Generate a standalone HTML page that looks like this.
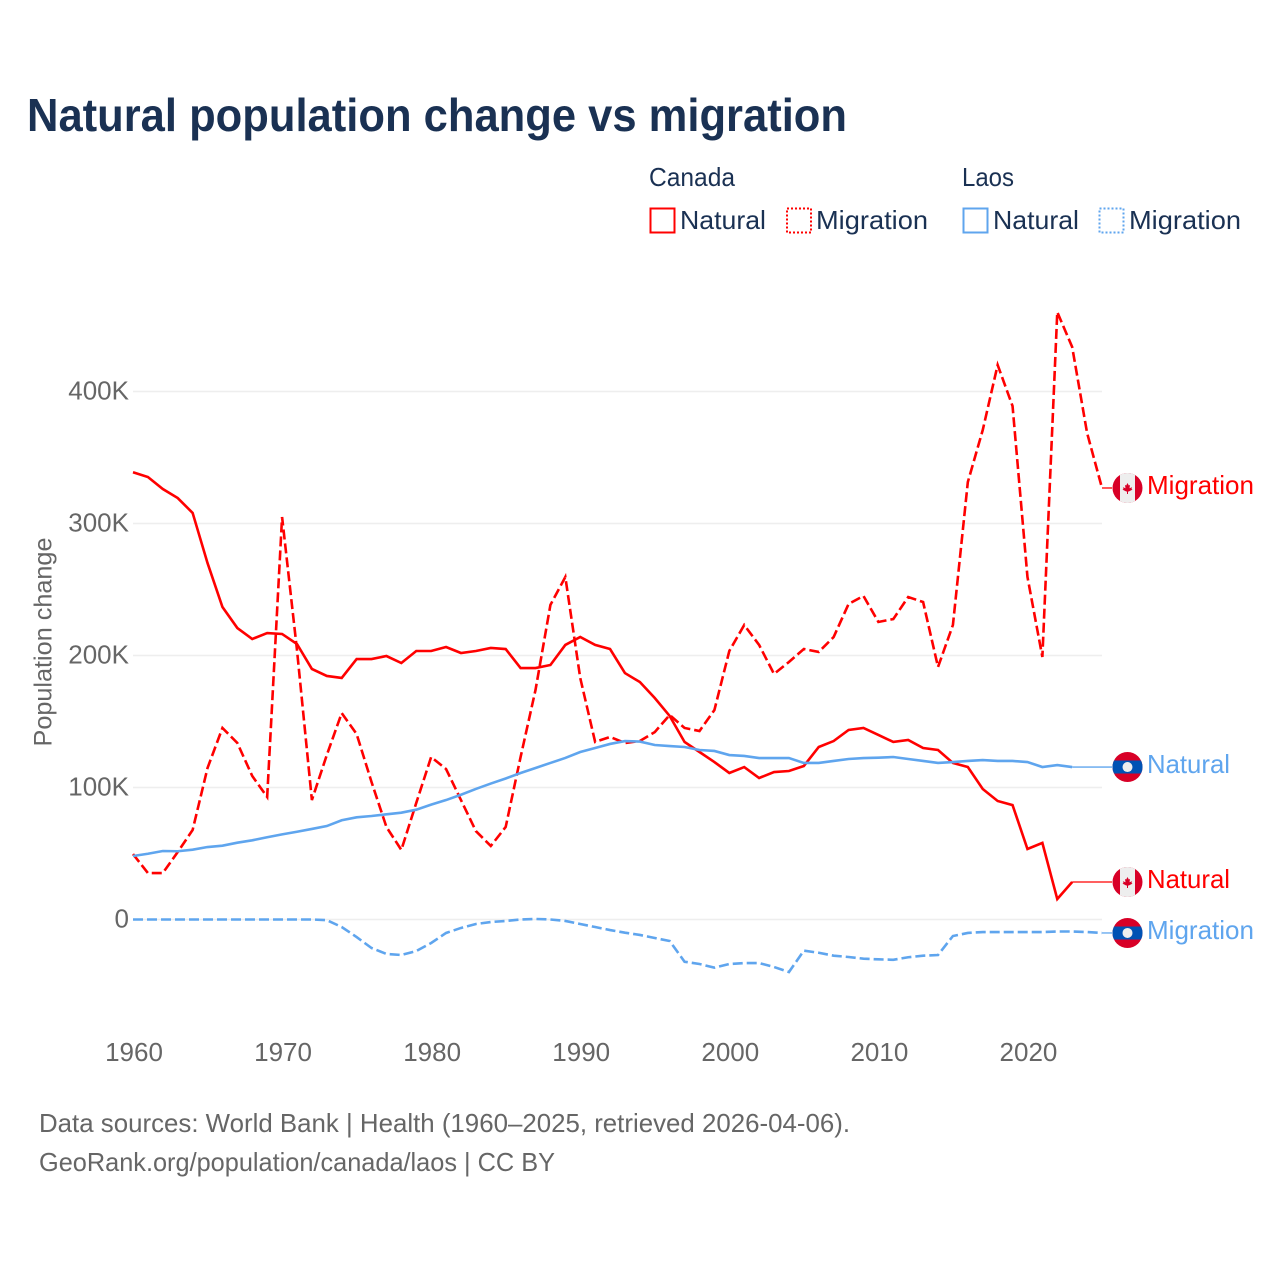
<!DOCTYPE html>
<html lang="en">
<head>
<meta charset="utf-8">
<title>Natural population change vs migration</title>
<style>
  html, body { margin: 0; padding: 0; background: #fff; }
  svg { display: block; font-family: "Liberation Sans", sans-serif; }
</style>
</head>
<body>
<svg id="chart" width="1280" height="1280" viewBox="0 0 1280 1280" xmlns="http://www.w3.org/2000/svg">
  <rect x="0" y="0" width="1280" height="1280" fill="#ffffff"/>
  <text x="27" y="131" font-size="46" font-weight="700" fill="#1a3153" textLength="820" lengthAdjust="spacingAndGlyphs">Natural population change vs migration</text>

  <g font-size="26" fill="#1a3153">
    <text x="649" y="186" textLength="86" lengthAdjust="spacingAndGlyphs">Canada</text>
    <text x="962" y="186" textLength="52" lengthAdjust="spacingAndGlyphs">Laos</text>
    <rect x="650.5" y="208.5" width="24" height="24" fill="none" stroke="#ff0000" stroke-width="2"/>
    <text x="680" y="229" textLength="86" lengthAdjust="spacingAndGlyphs">Natural</text>
    <rect x="787" y="208.5" width="24" height="24" fill="none" stroke="#ff0000" stroke-width="2" stroke-dasharray="2 2"/>
    <text x="816" y="229" textLength="112" lengthAdjust="spacingAndGlyphs">Migration</text>
    <rect x="963.5" y="208.5" width="24" height="24" fill="none" stroke="#5fa5ee" stroke-width="2"/>
    <text x="993" y="229" textLength="86" lengthAdjust="spacingAndGlyphs">Natural</text>
    <rect x="1099.5" y="208.5" width="24" height="24" fill="none" stroke="#5fa5ee" stroke-width="2" stroke-dasharray="2 2"/>
    <text x="1129" y="229" textLength="112" lengthAdjust="spacingAndGlyphs">Migration</text>
  </g>

  <text transform="translate(51.5,642) rotate(-90)" text-anchor="middle" font-size="25" fill="#666666" textLength="209" lengthAdjust="spacingAndGlyphs">Population change</text>

  <g id="grid"></g>
  <g id="yticks"></g>
  <g id="xticks"></g>
  <g id="series"></g>
  <g id="ends"></g>

  <text x="39" y="1132" font-size="26" fill="#666666" textLength="811" lengthAdjust="spacingAndGlyphs">Data sources: World Bank | Health (1960–2025, retrieved 2026-04-06).</text>
  <text x="39" y="1171" font-size="26" fill="#666666" textLength="516" lengthAdjust="spacingAndGlyphs">GeoRank.org/population/canada/laos | CC BY</text>
</svg>

<script>
const startYear = 1960;
const endYear = 2025;
const yTickValues = [0, 100, 200, 300, 400];
const yTickLabels = ["0", "100K", "200K", "300K", "400K"];
const xTickYears = [1960, 1970, 1980, 1990, 2000, 2010, 2020];

// values in thousands, consecutive years from 1960
const canadaNatural = [338.8,335.2,326.1,319.3,308,270,236.7,220.8,212.5,217,
  216.3,208.7,189.8,184.5,183,197.3,197.3,199.6,194.3,203.4,
  203.4,206.4,201.9,203.4,205.7,204.9,190.5,190.5,192.8,208,
  214,208,204.9,186.7,179.9,167.8,154.2,134.5,126.9,119.3,
  111,115.5,107.2,111.7,112.5,116.3,130.7,135.2,143.6,145.1,
  139.8,134.5,136,129.9,128.4,118.6,115.5,98.9,89.8,86.7,
  53.4,58,15.5,28.4];
const canadaMigration = [49.6,35.2,35.2,51.1,67.8,114.8,145.1,133.7,108.7,92.8,
  304.9,204.2,90.5,124.6,156.4,140.5,104.2,70.1,52.7,88.3,
  123.1,114,90.5,67,55.7,70.1,123.1,173.9,238.3,259.5,
  183,134.5,138.3,133.7,135.2,142,154.9,145.1,142.8,158.7,
  203.4,223.1,208,186,195.1,204.9,202.7,214,239,245.1,
  225.4,227.6,244.3,240.5,191.3,223.1,331.4,370.8,420.1,389,
  259.5,198.9,460.2,433.7,368.6,326.9];
const laosNatural = [48.1,49.8,51.9,51.7,52.9,54.9,55.9,58.2,60,62.3,
  64.5,66.5,68.6,70.8,75.2,77.4,78.4,79.7,80.9,83.2,
  87,90.5,94.5,98.9,103,106.8,111,114.8,118.6,122.4,
  126.9,129.9,133,135.2,134.8,132.2,131.4,130.7,128.4,127.7,
  124.6,123.9,122.3,122.3,122.3,118.6,118.6,120.1,121.6,122.3,
  122.6,123.1,121.6,120.1,118.6,119.3,120.1,120.8,120.1,120.1,
  119.3,115.5,117,115.5];
const laosMigration = [0,0,0,0,0,0,0,0,0,0,
  0,0,0,-0.5,-5.7,-13.3,-21.6,-26.1,-26.9,-23.9,
  -17.8,-10.2,-6.4,-3.4,-1.9,-1.1,0,0.4,0,-1.1,
  -3.4,-5.7,-8,-10,-11.7,-14,-16.3,-32,-33.7,-36.5,
  -33.7,-33,-33,-36,-39.8,-23.6,-25.2,-27.4,-28.4,-29.7,
  -30.2,-30.5,-28.6,-27.4,-26.9,-12.5,-10.2,-9.5,-9.5,-9.5,
  -9.5,-9.5,-9.1,-9.1,-9.5,-10.2];

const NS = "http://www.w3.org/2000/svg";
const RED = "#ff0000";
const BLUE = "#5fa5ee";

function xScale(year) { return 133 + (year - startYear) * (1102 - 133) / (endYear - startYear); }
function yScale(v) { return 919.5 - v * 1.32; }
function make(tag, attrs, parent) {
  const el = document.createElementNS(NS, tag);
  for (const k in attrs) el.setAttribute(k, attrs[k]);
  parent.appendChild(el);
  return el;
}

const gridG = document.getElementById("grid");
const yG = document.getElementById("yticks");
yTickValues.forEach(function (v, i) {
  const line = make("line", { x1: 133, x2: 1102, y1: yScale(v), y2: yScale(v), stroke: "#eeeeee", "stroke-width": 1.5 }, gridG);
  
  
  const t = make("text", { x: 129, y: yScale(v) + 8, "text-anchor": "end", "font-size": 26, fill: "#666666" }, yG);
  t.textContent = yTickLabels[i];
  
  
});

const xG = document.getElementById("xticks");
xTickYears.forEach(function (yr) {
  const t = make("text", { x: xScale(yr) + 1, y: 1061, "text-anchor": "middle", "font-size": 26, fill: "#666666" }, xG);
  t.textContent = String(yr);
  
  
});

function drawSeries(values, color, dashed, name) {
  const g = document.getElementById("series");
  const pts = values.map(function (v, i) { return xScale(startYear + i).toFixed(2) + "," + yScale(v).toFixed(2); });
  const attrs = { d: "M" + pts.join("L"), fill: "none", stroke: color, "stroke-width": 2.6, "stroke-linejoin": "miter" };
  if (dashed) attrs["stroke-dasharray"] = "10 4";
  const p = make("path", attrs, g);
  
  
  const last = values[values.length - 1];
  const conn = make("line", {
    x1: xScale(startYear + values.length - 1), y1: yScale(last),
    x2: 1112, y2: yScale(last), stroke: color, "stroke-width": 1.3
  }, g);
  
  
}

function drawFlag(kind, cy, parent) {
  const f = make("g", { transform: "translate(1127.5," + cy + ")" }, parent);
  
  
  make("circle", { cx: 0, cy: 0, r: 15, fill: "#d80027" }, f);
  if (kind === "canada") {
    make("path", { d: "M-7.5,-13V13A15,15 0 0 0 7.5,13V-13A15,15 0 0 0 -7.5,-13Z", fill: "#eeeeee" }, f);
    make("path", { d: "M0,-5L1.3,-2.5L2.5,-3L2,0.2L4.6,-0.8L4,1L5,1.6L1,3.6L0.5,3.4V6H-0.5V3.4L-1,3.6L-5,1.6L-4,1L-4.6,-0.8L-2,0.2L-2.5,-3L-1.3,-2.5Z", fill: "#d80027" }, f);
  } else {
    make("path", { d: "M-13.5,-6.5H13.5A15,15 0 0 1 13.5,6.5H-13.5A15,15 0 0 1 -13.5,-6.5Z", fill: "#0052b4" }, f);
    make("circle", { cx: 0, cy: 0, r: 5, fill: "#eeeeee" }, f);
  }
}

function drawEnd(values, kind, label, color, width) {
  const g = document.getElementById("ends");
  const last = yScale(values[values.length - 1]);
  drawFlag(kind, last, g);
  const t = make("text", { x: 1147, y: last + 6, "font-size": 26, fill: color, textLength: width, lengthAdjust: "spacingAndGlyphs" }, g);
  t.textContent = label;
  
  
}

drawSeries(canadaNatural, RED, false, "canada-natural-line");
drawSeries(canadaMigration, RED, true, "canada-migration-line");
drawSeries(laosMigration, BLUE, true, "laos-migration-line");
drawSeries(laosNatural, BLUE, false, "laos-natural-line");

drawEnd(canadaMigration, "canada", "Migration", RED, 107);
drawEnd(laosNatural, "laos", "Natural", BLUE, 83);
drawEnd(canadaNatural, "canada", "Natural", RED, 83);
drawEnd(laosMigration, "laos", "Migration", BLUE, 107);
</script>
</body>
</html>
